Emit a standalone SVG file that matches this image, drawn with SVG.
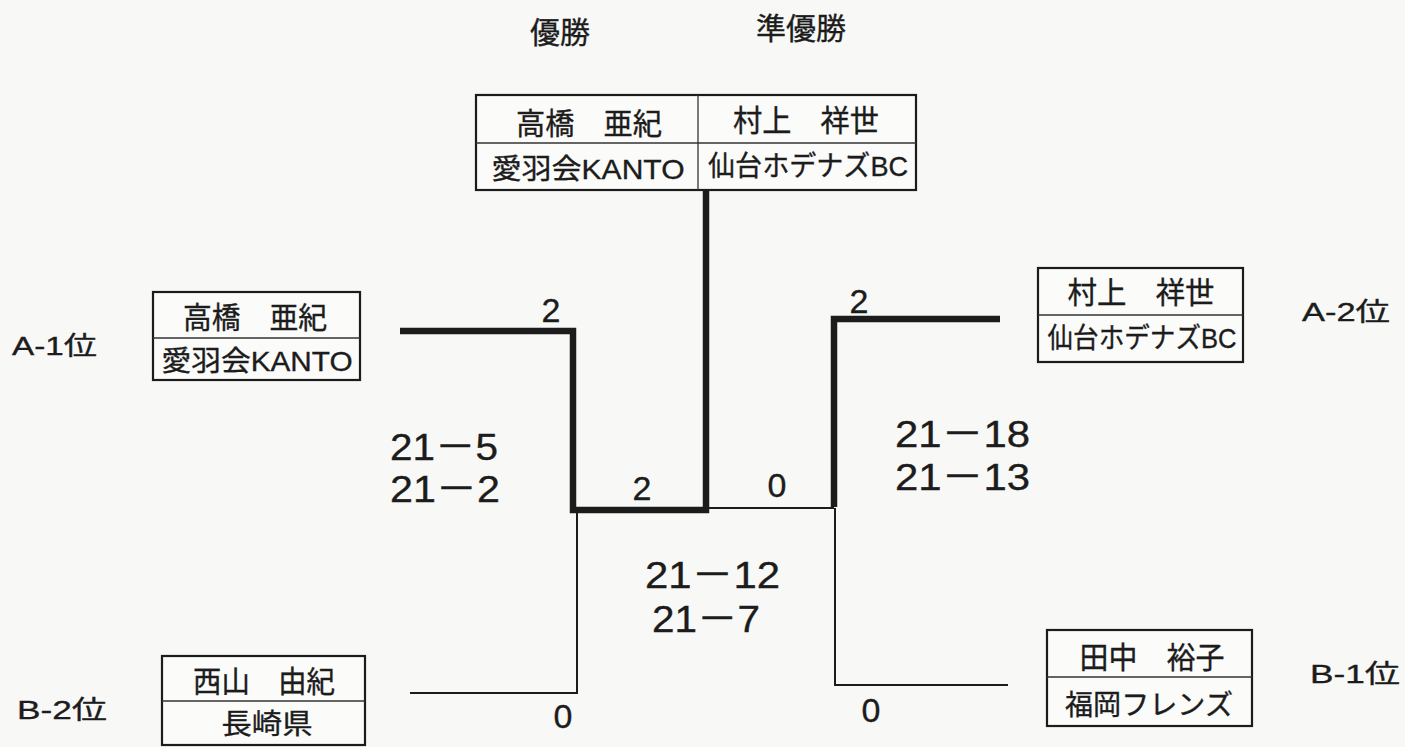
<svg xmlns="http://www.w3.org/2000/svg" width="1405" height="747" viewBox="0 0 1405 747">
<style>
text{font-family:"Liberation Sans","Noto Sans CJK JP",sans-serif;fill:#1c1c1c;stroke:#1c1c1c;stroke-width:0.35}
.nm{font-size:30px;text-anchor:middle}
.tm{font-size:28px;text-anchor:middle}
.sc{font-size:37px}
.pt{font-size:34px;text-anchor:middle}
.rk{font-size:26px}
.ttl{font-size:30px}
.box{fill:#fbfbfa;stroke:#1c1c1c;stroke-width:2.2}
.div{stroke:#333;stroke-width:1.3}
.thick{fill:none;stroke:#1c1c1c;stroke-width:6.5;stroke-linejoin:miter}
.thin{fill:none;stroke:#1c1c1c;stroke-width:2}
</style>
<rect width="1405" height="747" fill="#f8f8f6"/>

<g id="titles">
<text class="ttl" x="530" y="43">優勝</text>
<text class="ttl" x="756" y="39">準優勝</text>
</g>

<g id="connectors">
<path class="thick" d="M400 331 H573 V510 H706 V190"/>
<path class="thick" d="M1000 319 H834 V507"/>
<path class="thin" d="M706 508 H834"/>
<path class="thin" d="M577 512 V693 H410"/>
<path class="thin" d="M835 508 V685 H1008"/>
</g>

<g id="node-final">
<rect class="box" x="476" y="95" width="440" height="95"/>
<line class="div" x1="476" y1="143" x2="916" y2="143"/>
<line class="div" x1="698" y1="95" x2="698" y2="190"/>
<text class="nm" x="589" y="134" textLength="146" lengthAdjust="spacingAndGlyphs">高橋　亜紀</text>
<text class="tm" x="588" y="179" textLength="193" lengthAdjust="spacingAndGlyphs">愛羽会KANTO</text>
<text class="nm" x="806" y="131" textLength="146" lengthAdjust="spacingAndGlyphs">村上　祥世</text>
<text class="tm" x="808" y="176" textLength="200" lengthAdjust="spacingAndGlyphs">仙台ホデナズBC</text>
</g>

<g id="node-a1">
<rect class="box" x="153" y="292" width="207" height="88"/>
<line class="div" x1="153" y1="338" x2="360" y2="338"/>
<text class="nm" x="255" y="328" textLength="144" lengthAdjust="spacingAndGlyphs">高橋　亜紀</text>
<text class="tm" x="257" y="371" textLength="191" lengthAdjust="spacingAndGlyphs">愛羽会KANTO</text>
</g>

<g id="node-a2">
<rect class="box" x="1038" y="268" width="205" height="94"/>
<line class="div" x1="1038" y1="315" x2="1243" y2="315"/>
<text class="nm" x="1141" y="303" textLength="147" lengthAdjust="spacingAndGlyphs">村上　祥世</text>
<text class="tm" x="1142" y="348" textLength="189" lengthAdjust="spacingAndGlyphs">仙台ホデナズBC</text>
</g>

<g id="node-b2">
<rect class="box" x="162" y="656" width="203" height="89"/>
<line class="div" x1="162" y1="701" x2="365" y2="701"/>
<text class="nm" x="264" y="692" textLength="142" lengthAdjust="spacingAndGlyphs">西山　由紀</text>
<text class="tm" x="267" y="734" textLength="91" lengthAdjust="spacingAndGlyphs">長崎県</text>
</g>

<g id="node-b1">
<rect class="box" x="1047" y="630" width="205" height="96"/>
<line class="div" x1="1047" y1="677" x2="1252" y2="677"/>
<text class="nm" x="1152" y="668" textLength="145" lengthAdjust="spacingAndGlyphs">田中　裕子</text>
<text class="tm" x="1149" y="715" textLength="168" lengthAdjust="spacingAndGlyphs">福岡フレンズ</text>
</g>

<g id="ranks">
<text class="rk" x="12" y="355" textLength="85" lengthAdjust="spacingAndGlyphs">A-1位</text>
<text class="rk" x="1302" y="321" textLength="88" lengthAdjust="spacingAndGlyphs">A-2位</text>
<text class="rk" x="17" y="719" textLength="90" lengthAdjust="spacingAndGlyphs">B-2位</text>
<text class="rk" x="1310" y="683" textLength="90" lengthAdjust="spacingAndGlyphs">B-1位</text>
</g>

<g id="scores">
<text class="sc" x="390" y="460" textLength="108" lengthAdjust="spacingAndGlyphs">21－5</text>
<text class="sc" x="390" y="502" textLength="110" lengthAdjust="spacingAndGlyphs">21－2</text>
<text class="sc" x="895" y="447" textLength="135" lengthAdjust="spacingAndGlyphs">21－18</text>
<text class="sc" x="895" y="490" textLength="135" lengthAdjust="spacingAndGlyphs">21－13</text>
<text class="sc" x="645" y="588" textLength="135" lengthAdjust="spacingAndGlyphs">21－12</text>
<text class="sc" x="652" y="632" textLength="108" lengthAdjust="spacingAndGlyphs">21－7</text>
</g>

<g id="points">
<text class="pt" x="551" y="322">2</text>
<text class="pt" x="642" y="500">2</text>
<text class="pt" x="777" y="497">0</text>
<text class="pt" x="859" y="313">2</text>
<text class="pt" x="563" y="728">0</text>
<text class="pt" x="871" y="722">0</text>
</g>
</svg>
